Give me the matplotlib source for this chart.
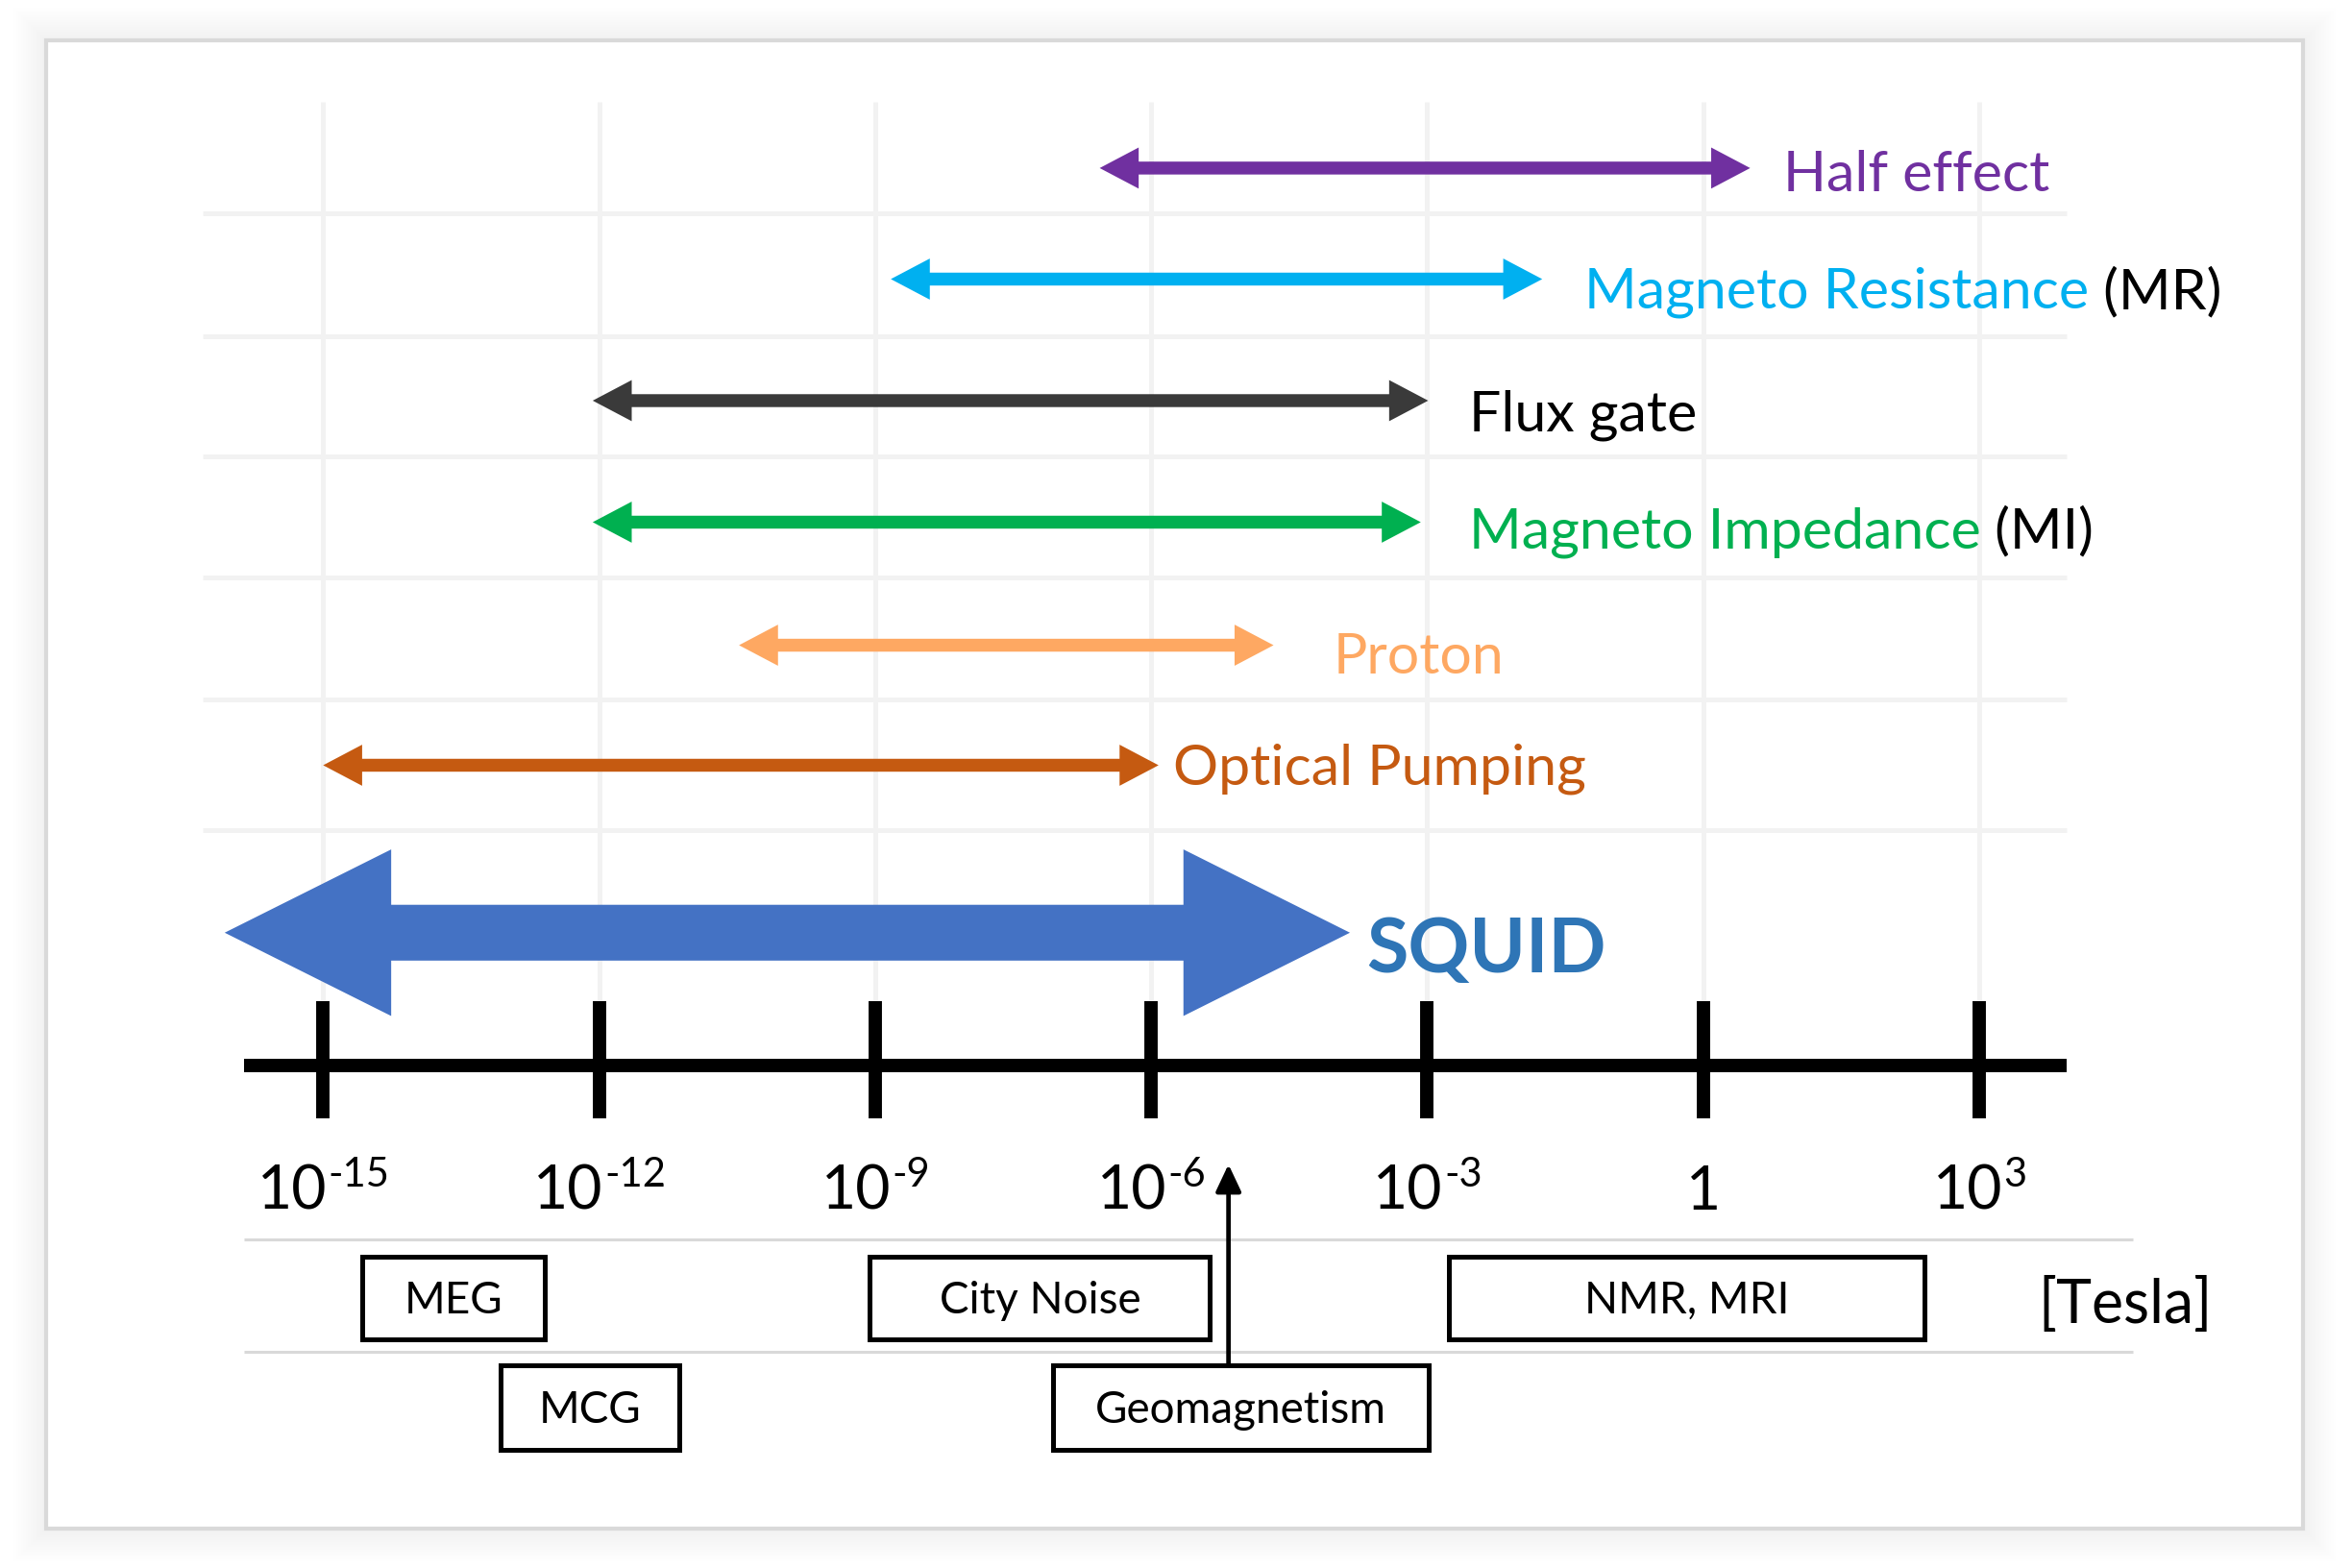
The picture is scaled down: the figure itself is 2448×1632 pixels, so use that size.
import numpy as np
import matplotlib
matplotlib.use('Agg')
import matplotlib.pyplot as plt
import matplotlib.patches as mpatches
import matplotlib.transforms as mtransforms

plt.rcParams['font.family'] = ['Lato', 'DejaVu Sans']

# ---- data: field ranges as log10(B / tesla), tip to tip ----
sensors = ['Half effect', 'Magneto Resistance', 'Flux gate',
           'Magneto Impedance', 'Proton', 'Optical Pumping']
sensor_suffix = ['', ' (MR)', '', ' (MI)', '', '']
sensor_lo = [-6.56, -8.83, -12.07, -12.07, -10.48, -15.0]
sensor_hi = [0.51, -1.75, -2.99, -3.07, -4.67, -5.92]
arrow_colors = ['#7030a0', '#00b0f0', '#3a3a3a', '#00b050', '#fea862', '#c55a11']
text_colors = ['#7030a0', '#00b0f0', '#000000', '#00b050', '#fea862', '#c55a11']

squid_lo, squid_hi = -16.07, -3.84

sources = ['MEG', 'City Noise', 'NMR, MRI', 'MCG', 'Geomagnetism']
source_lo = [-14.57, -9.06, -2.76, -13.07, -7.07]
source_hi = [-12.59, -5.36, 2.40, -11.13, -2.98]
source_row = [0, 0, 0, 1, 1]
geomag_exp = -5.16

tick_exps = [-15, -12, -9, -6, -3, 0, 3]

# ---- layout (working units: 1568 x 1045 canvas, y down) ----
W, H = 1568, 1045
xmin_exp, xmax_exp = -18.512, 7.051
px_dec = W / (xmax_exp - xmin_exp)

def dx(px):
    return px / px_dec

def T(e):
    return 10.0 ** np.asarray(e)

fig = plt.figure(figsize=(24.48, 16.32), dpi=100)
ax = fig.add_axes([0, 0, 1, 1])
ax.set_xscale('log')
ax.set_xlim(T(xmin_exp), T(xmax_exp))
ax.set_ylim(H, 0)
ax.axis('off')

pix = mtransforms.Affine2D().scale(1.0 / W, -1.0 / H).translate(0, 1) + fig.transFigure

# soft shadow + frame
fx0, fy0, fx1, fy1 = 31, 27, 1535.5, 1019
for i in range(14):
    d = 1 + i * 1.6
    ax.add_patch(mpatches.Rectangle((fx0 - d, fy0 - d), fx1 - fx0 + 2 * d, fy1 - fy0 + 2 * d,
                                    facecolor='black', edgecolor='none', alpha=0.005,
                                    transform=pix, zorder=0))
ax.add_patch(mpatches.Rectangle((fx0, fy0), fx1 - fx0, fy1 - fy0, facecolor='white',
                                edgecolor='#d9d9d9', lw=3, transform=pix, zorder=0.5))

# light grid
grid_rows = [142, 224, 304, 385, 466, 553]
for e in tick_exps:
    ax.plot(T([e, e]), [68, 667], color='#f2f2f2', lw=3.6, solid_capstyle='butt', zorder=1)
for gy in grid_rows:
    ax.plot(T([-16.31, 3.95]), [gy, gy], color='#f2f2f2', lw=3.6, solid_capstyle='butt', zorder=1)


def double_arrow(lo, hi, y, shaft, head, hlen, color):
    h = dx(hlen)
    pts = [(lo, y), (lo + h, y - head), (lo + h, y - shaft), (hi - h, y - shaft),
           (hi - h, y - head), (hi, y), (hi - h, y + head), (hi - h, y + shaft),
           (lo + h, y + shaft), (lo + h, y + head)]
    xy = [(T(px_), py_) for px_, py_ in pts]
    ax.add_patch(mpatches.Polygon(xy, closed=True, facecolor=color, edgecolor='none', zorder=3))


# sensor arrows
arrow_y = [112, 186, 267, 348, 430, 510]
label_baseline = [127.5, 205.4, 287, 365, 449, 523]
label_gap = [22, 28, 27, 32, 40, 10]
for i, name in enumerate(sensors):
    double_arrow(sensor_lo[i], sensor_hi[i], arrow_y[i], 4.3, 13.7, 26, arrow_colors[i])
    t = ax.text(T(sensor_hi[i] + dx(label_gap[i])), label_baseline[i], name,
                color=text_colors[i], fontsize=42.5, ha='left', va='baseline', zorder=4)
    if sensor_suffix[i]:
        ax.annotate(sensor_suffix[i], xy=(1, 0), xycoords=t, color='black',
                    fontsize=42.5, ha='left', va='bottom', zorder=4)

# SQUID
double_arrow(squid_lo, squid_hi, 621.6, 18.6, 55.5, 111, '#4472c4')
ax.text(T(squid_hi + dx(11)), 648, 'SQUID', color='#2e75b6', fontsize=57,
        fontweight='bold', ha='left', va='baseline', zorder=4)

# main axis
ax.plot(T([-15.86, 3.95]), [710, 710], color='black', lw=10, solid_capstyle='butt', zorder=3)
renderer = fig.canvas.get_renderer()
inv = ax.transData.inverted()
for e in tick_exps:
    ax.plot(T([e, e]), [667, 745.6], color='black', lw=10, solid_capstyle='butt', zorder=3)
    if e == 0:
        ax.text(T(e), 806, '1', fontsize=45, ha='center', va='baseline', zorder=4)
        continue
    # "10" with a raised exponent, the pair centred on the tick
    base = ax.text(T(e), 806, '10', fontsize=45, ha='left', va='baseline', zorder=4)
    sup = ax.text(T(e), 791, str(e), fontsize=30, ha='left', va='baseline', zorder=4)
    wb = base.get_window_extent(renderer).width
    ws = sup.get_window_extent(renderer).width
    xp, yp = ax.transData.transform((T(e), 806))
    left = xp - (wb + ws) / 2
    base.set_x(inv.transform((left, yp))[0])
    sup.set_x(inv.transform((left + wb + 1, yp))[0])

# separators of the source rows
for sy in [826, 901]:
    ax.plot(T([-15.86, 4.67]), [sy, sy], color='#d9d9d9', lw=2.2, solid_capstyle='butt', zorder=1)

# field source boxes
row_top = [837.5, 910]
row_h = [55, 56]
for name, lo, hi, r in zip(sources, source_lo, source_hi, source_row):
    ax.add_patch(mpatches.Rectangle((T(lo), row_top[r]), T(hi) - T(lo), row_h[r],
                                    facecolor='white', edgecolor='black', lw=3.6, zorder=3))
    ax.text(T((lo + hi) / 2), row_top[r] + row_h[r] / 2 + 2, name, fontsize=33,
            ha='center', va='center', zorder=4)

ax.annotate('', xy=(T(geomag_exp), 776), xytext=(T(geomag_exp), 910),
            arrowprops=dict(arrowstyle='-|>,head_length=17,head_width=8', lw=3.4,
                            color='black', shrinkA=0, shrinkB=0, mutation_scale=1),
            zorder=4)

ax.text(T(-15 + dx(1359 - 215.4)), 882, '[Tesla]', fontsize=45, ha='left', va='baseline')

fig.savefig('out.png', dpi=100, facecolor='white')
